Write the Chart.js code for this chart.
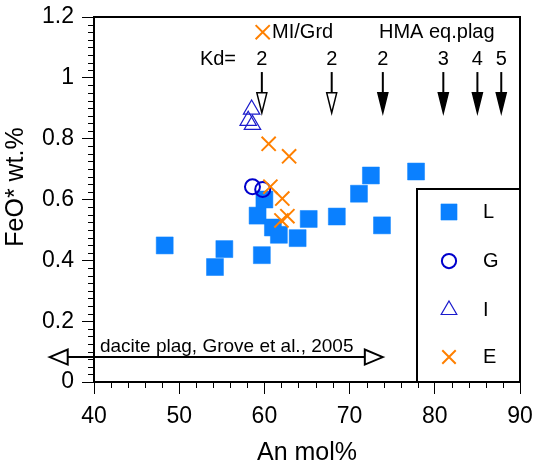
<!DOCTYPE html>
<html>
<head>
<meta charset="utf-8">
<script src="https://cdn.jsdelivr.net/npm/chart.js@4.4.0/dist/chart.umd.min.js"></script>
<style>
  html, body { margin: 0; padding: 0; background: #fff; }
</style>
</head>
<body>
<canvas id="chart" width="536" height="465"></canvas>
<script>
// L samples (blue squares)
const lAn  = [48.3, 55.3, 54.2, 59.7, 59.2, 60.0, 61.0, 61.7, 63.9, 65.2, 68.5, 71.1, 72.5, 73.8, 77.8];
const lFeo = [0.449, 0.437, 0.378, 0.417, 0.547, 0.600, 0.508, 0.484, 0.473, 0.536, 0.544, 0.619, 0.679, 0.515, 0.692];
// G samples (circles)
const gAn  = [58.6, 59.8];
const gFeo = [0.642, 0.633];
// I samples (triangles)
const iAn  = [58.5, 58.1, 58.6];
const iFeo = [0.896, 0.859, 0.846];
// E samples (crosses)
const eAn  = [60.5, 62.9, 60.7, 62.1, 62.7, 62.0];
const eFeo = [0.783, 0.742, 0.642, 0.603, 0.545, 0.531];

// Kd arrows along the top
const kdAn     = [59.7, 67.9, 73.9, 81.0, 85.0, 87.8];
const kdLabels = ["2", "2", "2", "3", "4", "5"];
const kdFilled = [false, false, true, true, true, true];
const kdTop = 1.019, kdTip = 0.885, kdTextY = 1.061;

// dacite plag range (double arrow)
const daciteRange = [34.8, 73.9];
const daciteY = 0.082;

const xTicks = [40, 50, 60, 70, 80, 90];
const yTicks = [0, 0.2, 0.4, 0.6, 0.8, 1, 1.2];

const FONT = "'Liberation Sans', Arial, Helvetica, sans-serif";

function pts(xs, ys) {
    return xs.map((x, i) => ({ x: x, y: ys[i] }));
}

const styles = {
    L: { pointStyle: "rect", radius: 12, backgroundColor: "#0a80ff", borderColor: "#0a80ff", borderWidth: 0.5 },
    G: { pointStyle: "circle", radius: 7.5, backgroundColor: "rgba(0,0,0,0)", borderColor: "#0000cc", borderWidth: 2 },
    I: { pointStyle: "triangle", radius: 9.5, backgroundColor: "rgba(0,0,0,0)", borderColor: "#1a1acc", borderWidth: 1.2 },
    E: { pointStyle: "crossRot", radius: 10, backgroundColor: "#ff8000", borderColor: "#ff8000", borderWidth: 2 }
};

function makeSet(label, xs, ys, st, order) {
    return {
        label: label,
        data: pts(xs, ys),
        order: order,
        pointStyle: st.pointStyle,
        pointRadius: st.radius,
        pointHoverRadius: st.radius,
        pointBackgroundColor: st.backgroundColor,
        pointBorderColor: st.borderColor,
        pointBorderWidth: st.borderWidth,
        showLine: false
    };
}

// Annotations, minor ticks, frame and legend
const extras = {
    id: "extras",
    afterDraw(chart) {
        const ctx = chart.ctx;
        const xs = chart.scales.x, ys = chart.scales.y;
        const a = chart.chartArea;
        ctx.save();

        // minor ticks
        ctx.strokeStyle = "#000";
        ctx.lineWidth = 1;
        ctx.beginPath();
        for (let v = 42; v < 90; v += 2) {
            if (v % 10 === 0) continue;
            const px = Math.round(xs.getPixelForValue(v)) + 0.5;
            ctx.moveTo(px, a.bottom);
            ctx.lineTo(px, a.bottom + 6);
        }
        for (let k = 1; k < 48; k++) {
            if (k % 8 === 0) continue;
            const py = Math.round(ys.getPixelForValue(k * 0.025)) + 0.5;
            ctx.moveTo(a.left - 6, py);
            ctx.lineTo(a.left, py);
        }
        ctx.stroke();

        // frame
        ctx.lineWidth = 2;
        ctx.strokeRect(a.left, a.top, a.right - a.left, a.bottom - a.top);

        // y axis title
        ctx.save();
        ctx.translate(16.5, 187);
        ctx.rotate(-Math.PI / 2);
        ctx.fillStyle = "#000";
        ctx.font = "25px " + FONT;
        ctx.textAlign = "center";
        ctx.textBaseline = "middle";
        ctx.fillText("FeO* wt.%", 0, 0);
        ctx.restore();

        // Kd arrows
        ctx.fillStyle = "#000";
        ctx.font = "20px " + FONT;
        ctx.textAlign = "center";
        ctx.textBaseline = "middle";
        kdAn.forEach((v, i) => {
            const px = xs.getPixelForValue(v);
            const top = ys.getPixelForValue(kdTop);
            const tip = ys.getPixelForValue(kdTip);
            ctx.lineWidth = 2;
            ctx.beginPath();
            ctx.moveTo(px, top);
            ctx.lineTo(px, tip - 20);
            ctx.stroke();
            ctx.beginPath();
            ctx.moveTo(px - 5, tip - 20);
            ctx.lineTo(px + 5, tip - 20);
            ctx.lineTo(px, tip);
            ctx.closePath();
            ctx.fillStyle = kdFilled[i] ? "#000" : "#fff";
            ctx.fill();
            ctx.lineWidth = 1.5;
            ctx.stroke();
            ctx.fillStyle = "#000";
            ctx.fillText(kdLabels[i], px, ys.getPixelForValue(kdTextY));
        });
        ctx.fillText("Kd=", xs.getPixelForValue(54.55), ys.getPixelForValue(kdTextY));

        // top labels
        const topY = ys.getPixelForValue(1.15);
        ctx.save();
        ctx.strokeStyle = "#ff8000";
        ctx.lineWidth = 2;
        Chart.helpers.drawPoint(ctx, { pointStyle: "crossRot", radius: 10, borderWidth: 2 },
            xs.getPixelForValue(59.8), topY);
        ctx.restore();
        ctx.fillStyle = "#000";
        ctx.textAlign = "left";
        ctx.fillText("MI/Grd", xs.getPixelForValue(60.9), topY);
        ctx.fillText("HMA eq.plag", xs.getPixelForValue(73.45), topY);

        // dacite double arrow
        const y0 = ys.getPixelForValue(daciteY);
        const x0 = xs.getPixelForValue(daciteRange[0]);
        const x1 = xs.getPixelForValue(daciteRange[1]);
        ctx.strokeStyle = "#000";
        ctx.lineWidth = 2;
        ctx.beginPath();
        ctx.moveTo(x0 + 18, y0);
        ctx.lineTo(x1 - 18, y0);
        ctx.stroke();
        [[x0, 1], [x1, -1]].forEach(([tx, d]) => {
            ctx.beginPath();
            ctx.moveTo(tx, y0);
            ctx.lineTo(tx + d * 18, y0 - 7.5);
            ctx.lineTo(tx + d * 18, y0 + 7.5);
            ctx.closePath();
            ctx.fillStyle = "#fff";
            ctx.fill();
            ctx.stroke();
        });
        ctx.fillStyle = "#000";
        ctx.font = "19px " + FONT;
        ctx.textAlign = "left";
        ctx.textBaseline = "alphabetic";
        ctx.fillText("dacite plag, Grove et al., 2005", xs.getPixelForValue(40.7), ys.getPixelForValue(0.097));

        // legend box
        const lx = 417, ly = 189;
        ctx.fillStyle = "#fff";
        ctx.fillRect(lx, ly, a.right - lx, a.bottom - ly);
        ctx.lineWidth = 2;
        ctx.strokeStyle = "#000";
        ctx.strokeRect(lx, ly, a.right - lx, a.bottom - ly);
        const entries = [["L", 212], ["G", 261], ["I", 310], ["E", 357]];
        ctx.font = "20px " + FONT;
        ctx.textBaseline = "middle";
        entries.forEach(([name, ey]) => {
            const st = styles[name];
            ctx.save();
            ctx.fillStyle = st.backgroundColor;
            ctx.strokeStyle = st.borderColor;
            ctx.lineWidth = st.borderWidth;
            Chart.helpers.drawPoint(ctx, { pointStyle: st.pointStyle, radius: st.radius * 0.95, borderWidth: st.borderWidth }, 449, ey);
            ctx.restore();
            ctx.fillStyle = "#000";
            ctx.fillText(name, 483, ey);
        });

        ctx.restore();
    }
};

new Chart(document.getElementById("chart"), {
    type: "scatter",
    data: {
        datasets: [
            makeSet("L", lAn, lFeo, styles.L, 4),
            makeSet("G", gAn, gFeo, styles.G, 3),
            makeSet("I", iAn, iFeo, styles.I, 2),
            makeSet("E", eAn, eFeo, styles.E, 1)
        ]
    },
    options: {
        responsive: false,
        animation: false,
        devicePixelRatio: 1,
        layout: { padding: { top: 17, right: 16, left: 0, bottom: 0 } },
        plugins: {
            legend: { display: false },
            tooltip: { enabled: false }
        },
        scales: {
            x: {
                type: "linear",
                min: 40,
                max: 90,
                afterBuildTicks: s => { s.ticks = xTicks.map(v => ({ value: v })); },
                afterFit: s => { s.height = 83; s.paddingLeft = 0; s.paddingRight = 0; },
                ticks: { color: "#000", font: { family: FONT, size: 23 }, padding: 9 },
                grid: { drawOnChartArea: false, drawTicks: true, tickLength: 12, color: "#000", lineWidth: 1 },
                border: { display: true, color: "#000", width: 2 },
                title: { display: true, text: "An mol%", color: "#000", font: { family: FONT, size: 25 }, padding: { top: 0, bottom: -3 } }
            },
            y: {
                type: "linear",
                min: 0,
                max: 1.2,
                afterBuildTicks: s => { s.ticks = yTicks.map(v => ({ value: v })); },
                afterFit: s => { s.width = 94; s.paddingTop = 0; s.paddingBottom = 0; },
                ticks: {
                    color: "#000",
                    font: { family: FONT, size: 23 },
                    padding: 8,
                    callback: v => String(Math.round(v * 10) / 10)
                },
                grid: { drawOnChartArea: false, drawTicks: true, tickLength: 12, color: "#000", lineWidth: 1 },
                border: { display: true, color: "#000", width: 2 }
            }
        }
    },
    plugins: [extras]
});
</script>
</body>
</html>
